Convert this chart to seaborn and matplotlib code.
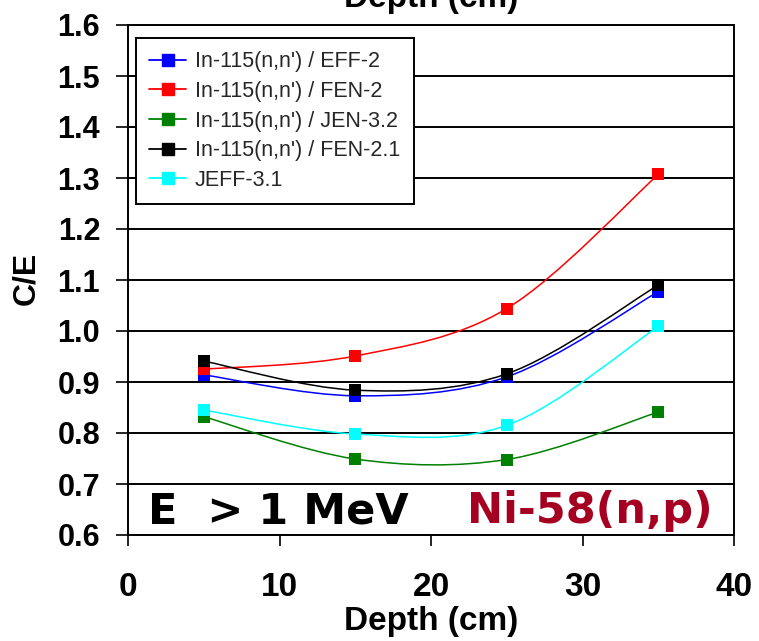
import numpy as np
import pandas as pd
import matplotlib
matplotlib.use("Agg")
import matplotlib.pyplot as plt
from matplotlib.path import Path
from matplotlib.patches import PathPatch
from matplotlib.lines import Line2D
import seaborn as sns

# ---- data ----
depth = [5, 15, 25, 35]
eff2 = [0.914, 0.873, 0.910, 1.077]
fen2 = [0.925, 0.951, 1.044, 1.307]
jen32 = [0.832, 0.749, 0.748, 0.841]
fen21 = [0.941, 0.884, 0.916, 1.090]
jeff31 = [0.845, 0.798, 0.815, 1.009]
labels = ["In-115(n,n') / EFF-2", "In-115(n,n') / FEN-2",
          "In-115(n,n') / JEN-3.2", "In-115(n,n') / FEN-2.1", "JEFF-3.1"]
colors = ["#0000FF", "#FF0000", "#008000", "#000000", "#00FFFF"]
xticks = [0, 10, 20, 30, 40]
yticks = [0.6, 0.7, 0.8, 0.9, 1.0, 1.1, 1.2, 1.3, 1.4, 1.5, 1.6]

series = [eff2, fen2, jen32, fen21, jeff31]
df = pd.concat([pd.DataFrame({"Depth": depth, "CE": s, "Series": lab})
                for s, lab in zip(series, labels)], ignore_index=True)

sns.set_theme(style="white")
plt.rcParams["font.family"] = ["Liberation Sans", "DejaVu Sans"]

W, H = 759, 641
fig = plt.figure(figsize=(W / 100, H / 100), dpi=100)
ax = fig.add_axes([128 / W, 1 - 535 / H, 606 / W, 510 / H])


def smooth_path(xs, ys):
    # Bezier (Catmull-Rom style) smoothing like spreadsheet "smoothed line"
    P = np.column_stack([xs, ys]).astype(float)
    n = len(P)
    verts = [P[0]]
    codes = [Path.MOVETO]
    for i in range(n - 1):
        p0 = P[i - 1] if i > 0 else P[i]
        p1 = P[i]
        p2 = P[i + 1]
        p3 = P[i + 2] if i + 2 < n else P[i + 1]
        c1 = p1 + (p2 - p0) / 6.0
        c2 = p2 - (p3 - p1) / 6.0
        verts += [c1, c2, p2]
        codes += [Path.CURVE4] * 3
    return Path(verts, codes)


for s, c in zip(series, colors):
    ax.add_patch(PathPatch(smooth_path(depth, s), facecolor="none",
                           edgecolor=c, lw=1.1, zorder=3))

for lab, c in zip(labels, colors):
    sub = df[df["Series"] == lab]
    sns.scatterplot(data=sub, x="Depth", y="CE", marker="s", s=80,
                    color=c, edgecolor=c, linewidth=0, ax=ax, zorder=4,
                    legend=False)

ax.set_xlim(0, 40)
ax.set_ylim(0.6, 1.6)
ax.set_xticks(xticks)
ax.set_yticks(yticks)
ax.set_yticklabels([f"{v:.1f}" for v in yticks])
ax.yaxis.grid(True, color="black", lw=1.4)
ax.xaxis.grid(False)
ax.set_axisbelow(True)
for sp in ax.spines.values():
    sp.set_visible(True)
    sp.set_color("black")
    sp.set_linewidth(1.4)

ax.tick_params(axis="y", direction="out", length=9, width=1.2, color="black",
               pad=11, labelsize=22, left=True)
ax.tick_params(axis="x", direction="out", length=8, width=1.2, color="black",
               pad=19, labelsize=24, bottom=True)
for t in ax.get_xticklabels() + ax.get_yticklabels():
    t.set_fontweight("bold")
    t.set_color("black")

ax.set_xlabel("Depth (cm)", fontsize=24, fontweight="bold", color="black")
ax.xaxis.set_label_coords(0.5, -0.14)
ax.xaxis.label.set_va("top")
ax.set_ylabel("C/E", fontsize=23, fontweight="bold", color="black")
ax.yaxis.set_label_coords(-0.143, 0.504)

handles = [Line2D([0], [0], color=c, lw=1.3, marker="s", markersize=8,
                  markerfacecolor=c, markeredgecolor=c) for c in colors]
leg = ax.legend(handles, labels, loc="upper left",
                bbox_to_anchor=(8 / 606, 1 - 13 / 510), borderaxespad=0,
                frameon=True, fancybox=False, framealpha=1, edgecolor="black",
                prop={"size": 15.5},
                handlelength=1.7, handletextpad=0.42, labelspacing=0.4,
                borderpad=0.62)
leg.get_frame().set_linewidth(1.4)

ax.text(20 / 606, 11 / 510, "E  > 1 MeV", transform=ax.transAxes,
        fontsize=31, fontweight="bold", color="black", va="baseline",
        ha="left", family="DejaVu Sans", zorder=6)
ax.text(339 / 606, 12 / 510, "Ni-58(n,p)", transform=ax.transAxes,
        fontsize=31, fontweight="bold", color="#A50021", va="baseline",
        ha="left", family="DejaVu Sans", zorder=6)

fig.text(431 / W, 1 - 7 / H, "Depth (cm)", ha="center", va="baseline",
         fontsize=24, fontweight="bold", color="black")

fig.savefig("out.png", dpi=100, facecolor="white")
